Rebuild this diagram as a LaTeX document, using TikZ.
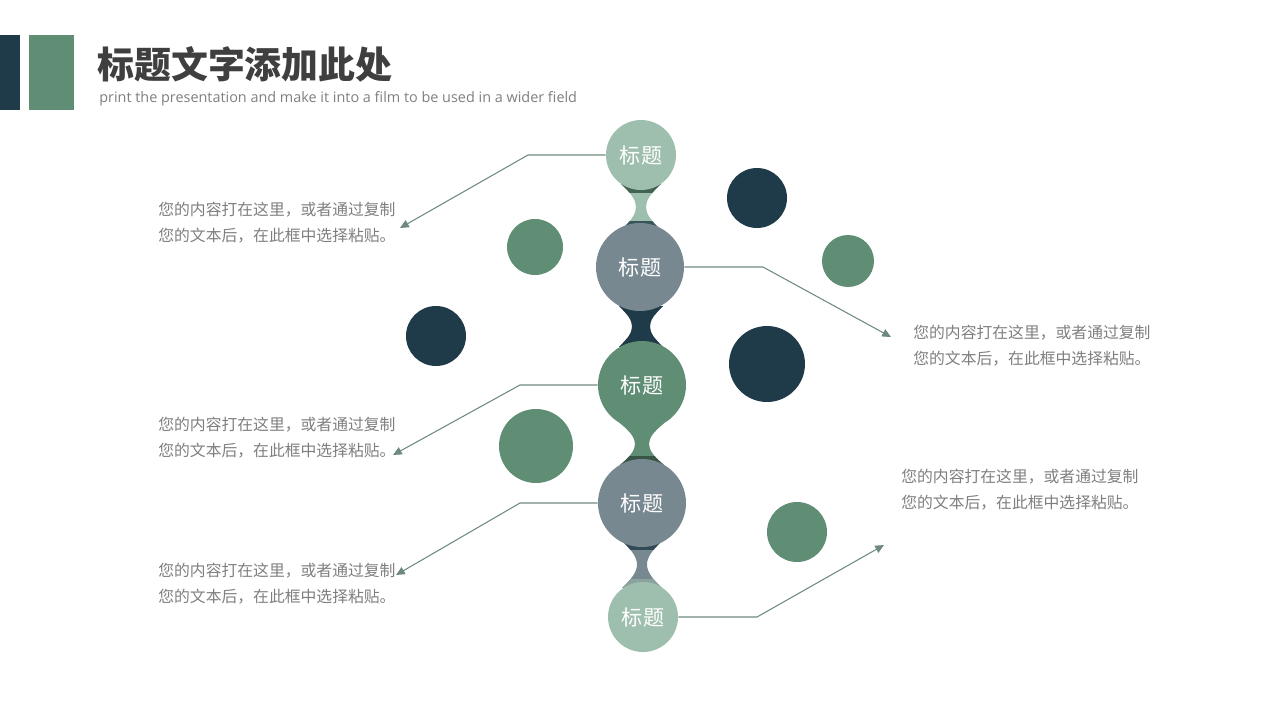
\documentclass[tikz,border=0pt]{standalone}
\usepackage{fontspec}
\usetikzlibrary{arrows.meta}
\newfontfamily\cjk{Noto Sans CJK SC}
\newfontfamily\latinsf{Open Sans}
\definecolor{navy}{HTML}{1F3A48}
\definecolor{sage}{HTML}{5F8E74}
\definecolor{mint}{HTML}{9FBFAE}
\definecolor{slate}{HTML}{788891}
\definecolor{linkc}{HTML}{6E8A7E}
\definecolor{note}{HTML}{7F7F7F}
\definecolor{head}{HTML}{3F3F3F}
\def\pxu{0.02cm}
\tikzset{
  bub/.style={circle,inner sep=0pt,text=white,font=\cjk\fontsize{12}{14}\selectfont},
  blob/.style={circle,inner sep=0pt},
  link/.style={draw=linkc,line width=0.6pt},
  tip/.style={-{Triangle[length=5pt,width=4.5pt]}},
  memo/.style={anchor=west,align=left,inner sep=0pt,text=note,font=\cjk\fontsize{9}{14.7}\selectfont}
}
% neck: colour, cx, ya, yb, half width at ends, control offset, band colour top, band colour bottom
\newcommand\neck[8]{%
  \begin{scope}
    \clip (#2-#5,#3) .. controls (#2-#6,{#3+0.4*(#4-#3)}) and (#2-#6,{#3+0.6*(#4-#3)}) .. (#2-#5,#4)
      -- (#2+#5,#4) .. controls (#2+#6,{#3+0.6*(#4-#3)}) and (#2+#6,{#3+0.4*(#4-#3)}) .. (#2+#5,#3) -- cycle;
    \fill[#1] (#2-30,#3) rectangle (#2+30,#4);
    \fill[#7] (#2-30,#3) rectangle (#2+30,#3+9);
    \fill[#8] (#2-30,#4-9) rectangle (#2+30,#4);
  \end{scope}}
\begin{document}
\begin{tikzpicture}[x=0.02cm,y=-0.02cm]
  \useasboundingbox (0,0) rectangle (1280,720);
  \fill[navy] (0,35) rectangle (20,110);
  \fill[sage] (29,35) rectangle (74,110);
  \node[anchor=west,inner sep=0pt,text=head,font=\cjk\bfseries\fontsize{21}{24}\selectfont] (ttl) at (97,64) {标题文字添加此处};
  \node[anchor=west,inner sep=0pt,text=note,font=\latinsf\fontsize{8.2}{10}\selectfont] (sub) at (99,99) {print the presentation and make it into a film to be used in a wider field};

  \neck{mint}{641}{184}{230}{20}{0}{sage!70!black}{navy!80!mint}
  \neck{navy}{641}{306}{347}{22}{4.7}{navy}{navy}
  \neck{sage}{642}{423}{465}{22}{2}{sage}{sage!60!black}
  \neck{slate}{642}{541}{588}{20}{0}{navy!80!slate}{slate!50!mint}

  \node[bub,fill=mint,minimum size=70*\pxu] (t1) at (641,155) {标题};
  \node[bub,fill=slate,minimum size=88*\pxu] (t2) at (640,267) {标题};
  \node[bub,fill=sage,minimum size=88*\pxu] (t3) at (642,385) {标题};
  \node[bub,fill=slate,minimum size=88*\pxu] (t4) at (642,503) {标题};
  \node[bub,fill=mint,minimum size=70*\pxu] (t5) at (643,617) {标题};

  \foreach \x/\y/\d/\c [count=\i] in {757/198/60/navy,535/247/56/sage,848/261/52/sage,436/336/60/navy,767/364/76/navy,536/446/74/sage,797/532/60/sage}
    \node[blob,fill=\c,minimum size=\d*\pxu] (d\i) at (\x,\y) {};

  \coordinate (k1) at (528,155);
  \coordinate (e1) at (400,228);
  \coordinate (k2) at (763,267);
  \coordinate (e2) at (891,337);
  \coordinate (k3) at (520,385);
  \coordinate (e3) at (393,455);
  \coordinate (k4) at (520,503);
  \coordinate (e4) at (396,575);
  \coordinate (k5) at (757,617);
  \coordinate (e5) at (884,545);
  \draw[link,tip] (t1.west) -- (k1) -- (e1);
  \draw[link,tip] (t2.east) -- (k2) -- (e2);
  \draw[link,tip] (t3.west) -- (k3) -- (e3);
  \draw[link,tip] (t4.west) -- (k4) -- (e4);
  \draw[link,tip] (t5.east) -- (k5) -- (e5);

  \node[memo] (m1) at (158,223) {您的内容打在这里，或者通过复制\\您的文本后，在此框中选择粘贴。};
  \node[memo] (m2) at (913,346) {您的内容打在这里，或者通过复制\\您的文本后，在此框中选择粘贴。};
  \node[memo] (m3) at (158,438) {您的内容打在这里，或者通过复制\\您的文本后，在此框中选择粘贴。};
  \node[memo] (m4) at (158,584) {您的内容打在这里，或者通过复制\\您的文本后，在此框中选择粘贴。};
  \node[memo] (m5) at (901,490) {您的内容打在这里，或者通过复制\\您的文本后，在此框中选择粘贴。};
\end{tikzpicture}
\end{document}
